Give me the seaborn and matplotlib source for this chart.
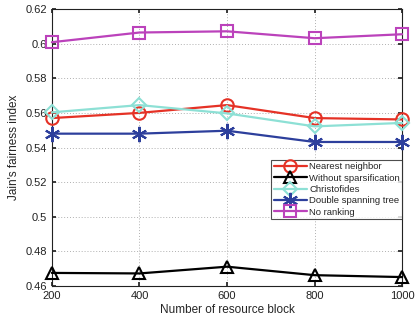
import matplotlib
matplotlib.use("Agg")
import matplotlib.pyplot as plt
import seaborn as sns
import pandas as pd

blocks = [200, 400, 600, 800, 1000]
nearest_neighbor = [0.557, 0.560, 0.5645, 0.557, 0.5562]
without_sparsification = [0.4676, 0.4673, 0.4712, 0.4663, 0.4652]
christofides = [0.5603, 0.5645, 0.5597, 0.5522, 0.5542]
double_spanning_tree = [0.548, 0.548, 0.5497, 0.5432, 0.5432]
no_ranking = [0.6008, 0.6064, 0.6071, 0.6031, 0.6054]

# asterisk marker built from six spokes
asterisk = (6, 2, 0)

series = [
    ("Nearest neighbor", nearest_neighbor, "#e53226", "o", 9),
    ("Without sparsification", without_sparsification, "#000000", "^", 9),
    ("Christofides", christofides, "#8de0d5", "D", 7),
    ("Double spanning tree", double_spanning_tree, "#2d3f9c", asterisk, 11),
    ("No ranking", no_ranking, "#bb42bb", "s", 8),
]

sns.set_theme(style="white")
plt.rcParams["font.family"] = ["Liberation Sans", "DejaVu Sans"]

fig = plt.figure(figsize=(4.15, 3.2), dpi=100)
ax = fig.add_axes([0.125, 0.106, 0.844, 0.866])

for name, vals, color, marker, ms in series:
    df = pd.DataFrame({"x": blocks, "y": vals})
    sns.lineplot(data=df, x="x", y="y", ax=ax, color=color, marker=marker,
                 markersize=ms, linewidth=1.6, label=name,
                 markerfacecolor="none", markeredgecolor=color,
                 markeredgewidth=1.5, clip_on=False, zorder=3)

ax.set_xlim(200, 1000)
ax.set_ylim(0.46, 0.62)
ax.set_xticks(blocks)
ax.set_xticklabels([str(b) for b in blocks])
yt = [0.46, 0.48, 0.5, 0.52, 0.54, 0.56, 0.58, 0.6, 0.62]
ax.set_yticks(yt)
ax.set_yticklabels(["0.46", "0.48", "0.5", "0.52", "0.54", "0.56", "0.58", "0.6", "0.62"])
ax.grid(True, linestyle=(0, (1, 2)), color="#b0b0b0", linewidth=0.7)
ax.tick_params(direction="in", length=3, labelsize=8, colors="#222222", top=True, right=True,
               bottom=True, left=True)
for s in ax.spines.values():
    s.set_color("#222222")
    s.set_linewidth(0.8)
    s.set_zorder(2)
ax.set_xlabel("Number of resource block", fontsize=8.5, labelpad=2)
ax.set_ylabel("Jain's fairness index", fontsize=8.5, labelpad=4)

leg = ax.legend(loc="upper right", bbox_to_anchor=(1.0, 0.455), fontsize=6.8,
                frameon=True, fancybox=False, edgecolor="#222222", borderpad=0.25,
                labelspacing=0.25, handlelength=3.5, handletextpad=0.25, borderaxespad=0)
leg.get_frame().set_linewidth(0.8)
leg.set_zorder(5)

fig.savefig("out.png", dpi=100)
